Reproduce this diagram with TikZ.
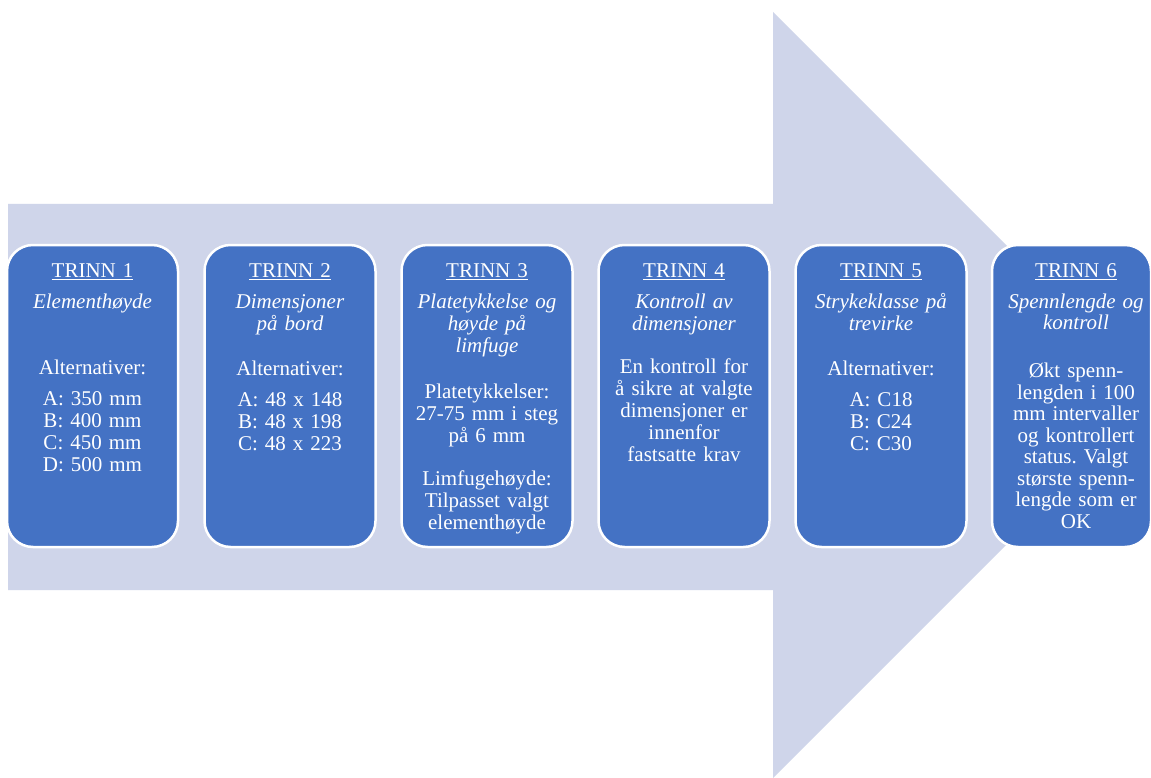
\documentclass[tikz,border=0pt]{standalone}
\usepackage{fontspec}
\setmainfont{Liberation Serif}
\frenchspacing
\definecolor{arrowc}{HTML}{CFD5EA}
\definecolor{boxc}{HTML}{4472C4}
\newcommand{\ulx}[1]{\setbox0\hbox{#1}\rlap{\rule[-2.6pt]{\wd0}{0.9pt}}\box0}
\newcommand{\fst}{\rule{0pt}{15pt}}
\begin{document}
\begin{tikzpicture}[x=1pt,y=-1pt,
  stepbox/.style={rectangle, rounded corners=26pt, fill=boxc, draw=white, line width=2.5pt,
    minimum width=171pt, minimum height=302pt, inner sep=0pt},
  txt/.style={text=white, align=center, text width=165pt, inner sep=0pt, anchor=north,
    font=\fontsize{21}{22}\selectfont}]
\clip (0,0) rectangle (1151,778);
\fill[white] (0,0) rectangle (1151,778);
% big arrow
\fill[arrowc] (8,204) -- (773,204) -- (773,12) -- (1156,395) -- (773,778) -- (773,590) -- (8,590) -- cycle;
% boxes
\node[stepbox] (b1) at (92.5,396) {};
\node[stepbox] (b2) at (290,396) {};
\node[stepbox] (b3) at (487,396) {};
\node[stepbox] (b4) at (684,396) {};
\node[stepbox] (b5) at (881,396) {};
\node[stepbox, minimum width=159pt] (b6) at (1071.5,396) {};
% texts
\node[txt] (t1) at (92.5,262) {\fst\ulx{TRINN 1}\\[9pt]
  \textit{Elementhøyde}\\[44pt]
  Alternativer:\\[9pt]
  A: 350 mm\\ B: 400 mm\\ C: 450 mm\\ D: 500 mm};
\node[txt] (t2) at (290,262) {\fst\ulx{TRINN 2}\\[9pt]
  \textit{Dimensjoner}\\ \textit{på bord}\\[23pt]
  Alternativer:\\[9pt]
  A: 48 x 148\\ B: 48 x 198\\ C: 48 x 223};
\node[txt] (t3) at (487,262) {\fst\ulx{TRINN 3}\\[9pt]
  \textit{Platetykkelse og}\\ \textit{høyde på}\\ \textit{limfuge}\\[24pt]
  Platetykkelser:\\ 27-75 mm i steg\\ på 6 mm\\[21pt]
  Limfugehøyde:\\ Tilpasset valgt\\ elementhøyde};
\node[txt] (t4) at (684,262) {\fst\ulx{TRINN 4}\\[9pt]
  \textit{Kontroll av}\\ \textit{dimensjoner}\\[21pt]
  En kontroll for\\ å sikre at valgte\\ dimensjoner er\\ innenfor\\ fastsatte krav};
\node[txt] (t5) at (881,262) {\fst\ulx{TRINN 5}\\[9pt]
  \textit{Strykeklasse på}\\ \textit{trevirke}\\[23pt]
  Alternativer:\\[9pt]
  A: C18\\ B: C24\\ C: C30};
\node[txt, font=\fontsize{21}{21.5}\selectfont] (t6) at (1076,262) {\fst\ulx{TRINN 6}\\[9.5pt]
  \textit{Spennlengde og}\\ \textit{kontroll}\\[26.5pt]
  Økt spenn-\\ lengden i 100\\ mm intervaller\\ og kontrollert\\ status. Valgt\\ største spenn-\\ lengde som er\\ OK};
\end{tikzpicture}
\end{document}
